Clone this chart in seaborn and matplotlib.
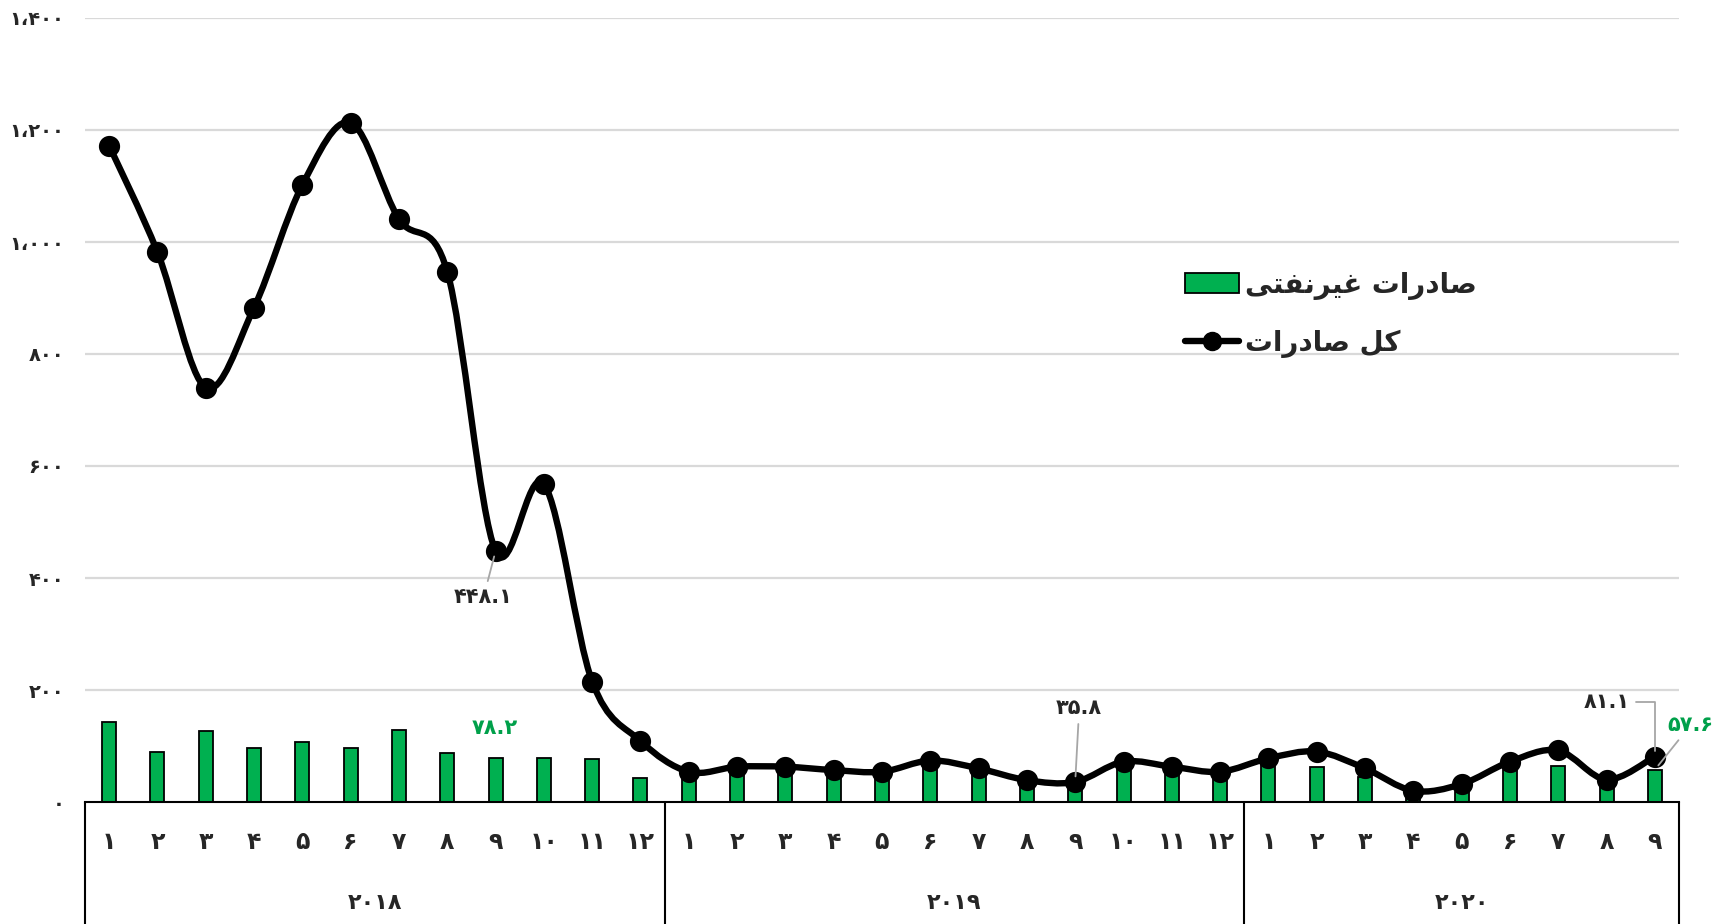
import numpy as np
import pandas as pd
import matplotlib
matplotlib.use("Agg")
import matplotlib.pyplot as plt
import matplotlib.transforms as mtransforms
from matplotlib.path import Path
from matplotlib.patches import PathPatch, Patch
from matplotlib.lines import Line2D
import seaborn as sns

# data
years = ["2018", "2019", "2020"]
months_per_year = [12, 12, 9]
total_exports = [1172, 982, 740, 883, 1102, 1213, 1041, 947, 448.1, 568, 215, 109,
                 54, 63, 63, 57, 54, 74, 60, 39, 35.8, 72, 63, 54,
                 78, 90, 60, 20, 32, 72, 92, 40, 81.1]
non_oil_exports = [143, 90, 127, 97, 107, 97, 128, 88, 78.2, 79, 77, 43,
                   46, 55, 55, 50, 46, 68, 52, 27, 23, 65, 55, 46,
                   68, 62, 45, 9, 18, 57, 64, 27, 57.6]
y_ticks = [0, 200, 400, 600, 800, 1000, 1200, 1400]

# legend labels, pre-shaped Arabic presentation forms in visual order
label_non_oil = "\uFEF0\uFE98\uFED4\uFEE7\uFEAE\uFEF4\uFECF \uFE95\uFE8D\uFEAD\uFEA9\uFE8E\uFEBB"  # صادرات غیرنفتی
label_total = "\uFE95\uFE8D\uFEAD\uFEA9\uFE8E\uFEBB \uFEDE\uFEDB"  # کل صادرات

GREEN = "#00B050"
GREEN_TXT = "#00A04A"
FA_DIGITS = str.maketrans("0123456789,", "۰۱۲۳۴۵۶۷۸۹،")


def fa(s):
    return str(s).translate(FA_DIGITS)


months = [m + 1 for n in months_per_year for m in range(n)]
df = pd.DataFrame({"pos": np.arange(len(months)), "month": months,
                   "total": total_exports, "non_oil": non_oil_exports})

sns.set_style("white")
plt.rcParams["font.family"] = ["DejaVu Sans"]
plt.rcParams["font.weight"] = "bold"

fig = plt.figure(figsize=(17.14, 9.24), dpi=100)
ax = fig.add_axes([85 / 1714, 1 - 802 / 924, (1679 - 85) / 1714, 784 / 924])

for v in y_ticks[1:]:
    ax.axhline(v, color="#D9D9D9", lw=1.6, zorder=0)

sns.barplot(data=df, x="pos", y="non_oil", native_scale=True, width=0.29,
            color=GREEN, edgecolor="black", linewidth=1.3, saturation=1, ax=ax, zorder=2)


def smooth_path(x, y):
    # bezier segments like a spreadsheet "smoothed line"
    px = np.concatenate([[x[0]], x, [x[-1]]])
    py = np.concatenate([[y[0]], y, [y[-1]]])
    verts = [(x[0], y[0])]
    codes = [Path.MOVETO]
    for i in range(1, len(px) - 2):
        c1 = (px[i] + (px[i + 1] - px[i - 1]) / 6, py[i] + (py[i + 1] - py[i - 1]) / 6)
        c2 = (px[i + 1] - (px[i + 2] - px[i]) / 6, py[i + 1] - (py[i + 2] - py[i]) / 6)
        verts += [c1, c2, (px[i + 1], py[i + 1])]
        codes += [Path.CURVE4] * 3
    return Path(verts, codes)


ax.add_patch(PathPatch(smooth_path(df["pos"].values.astype(float), df["total"].values),
                       facecolor="none", edgecolor="black", lw=4.6, zorder=3,
                       capstyle="round", joinstyle="round"))
sns.scatterplot(data=df, x="pos", y="total", color="black", s=200, edgecolor="black",
                zorder=4, ax=ax, legend=False)

ax.set_xlim(-0.5, len(months) - 0.5)
ax.set_ylim(0, 1400)
ax.set_yticks(y_ticks)
ax.set_yticklabels([fa(f"{v:,}") for v in y_ticks], fontsize=14, fontweight="bold")
ax.tick_params(axis="y", length=0, pad=15)
ax.set_xticks(df["pos"])
ax.set_xticklabels([fa(m) for m in months], fontsize=17, fontweight="bold")
ax.tick_params(axis="x", length=0, pad=20)
ax.set_xlabel("")
ax.set_ylabel("")
for side in ["top", "right", "left"]:
    ax.spines[side].set_visible(False)
ax.spines["bottom"].set_color("black")
ax.spines["bottom"].set_linewidth(1.5)

# multi-level category axis
trans = mtransforms.blended_transform_factory(ax.transData, ax.transAxes)
bounds = np.concatenate([[0], np.cumsum(months_per_year)]) - 0.5
for b in bounds:
    ax.plot([b, b], [0, -0.2], transform=trans, color="black", lw=1.5, clip_on=False)
for i, yr in enumerate(years):
    ax.text((bounds[i] + bounds[i + 1]) / 2, -0.129, fa(yr), transform=trans,
            ha="center", va="center", fontsize=16, fontweight="bold")

# data labels
gray = dict(arrowstyle="-", color="#A6A6A6", lw=1.3, shrinkA=2, shrinkB=4)
ax.annotate(fa(f"{total_exports[8]}"), (8, total_exports[8]), xytext=(-12, -46),
            textcoords="offset pixels", ha="center", va="center", fontsize=15,
            fontweight="bold", arrowprops=gray, zorder=5)
ax.annotate(fa(f"{total_exports[20]}"), (20, total_exports[20]), xytext=(4, 74),
            textcoords="offset pixels", ha="center", va="center", fontsize=15,
            fontweight="bold", arrowprops=gray, zorder=5)
ax.annotate(fa(f"{total_exports[32]}"), (32, total_exports[32]), xytext=(-48, 55),
            textcoords="offset pixels", ha="center", va="center", fontsize=15,
            fontweight="bold", zorder=5,
            arrowprops=dict(gray, connectionstyle="angle,angleA=0,angleB=90"))
ax.annotate(fa(f"{non_oil_exports[8]}"), (8, non_oil_exports[8]), xytext=(-1, 30),
            textcoords="offset pixels", ha="center", va="center", fontsize=15,
            fontweight="bold", color=GREEN_TXT, zorder=5)
ax.annotate(fa(f"{non_oil_exports[32]}"), (32, non_oil_exports[32]), xytext=(36, 45),
            textcoords="offset pixels", ha="center", va="center", fontsize=15,
            fontweight="bold", color=GREEN_TXT, arrowprops=gray, zorder=5,
            annotation_clip=False)

handles = [Patch(facecolor=GREEN, edgecolor="black", linewidth=1.3),
           Line2D([0], [0], color="black", lw=4.6, marker="o", markersize=13)]
fig.legend(handles, [label_non_oil, label_total], loc="upper left",
           bbox_to_anchor=(1160 / 1714, 1 - 246 / 924), frameon=False,
           prop={"size": 20, "weight": "bold"}, handlelength=1.95, handleheight=0.75,
           labelspacing=1.05, handletextpad=0.2)

fig.savefig("out.png", dpi=100)
